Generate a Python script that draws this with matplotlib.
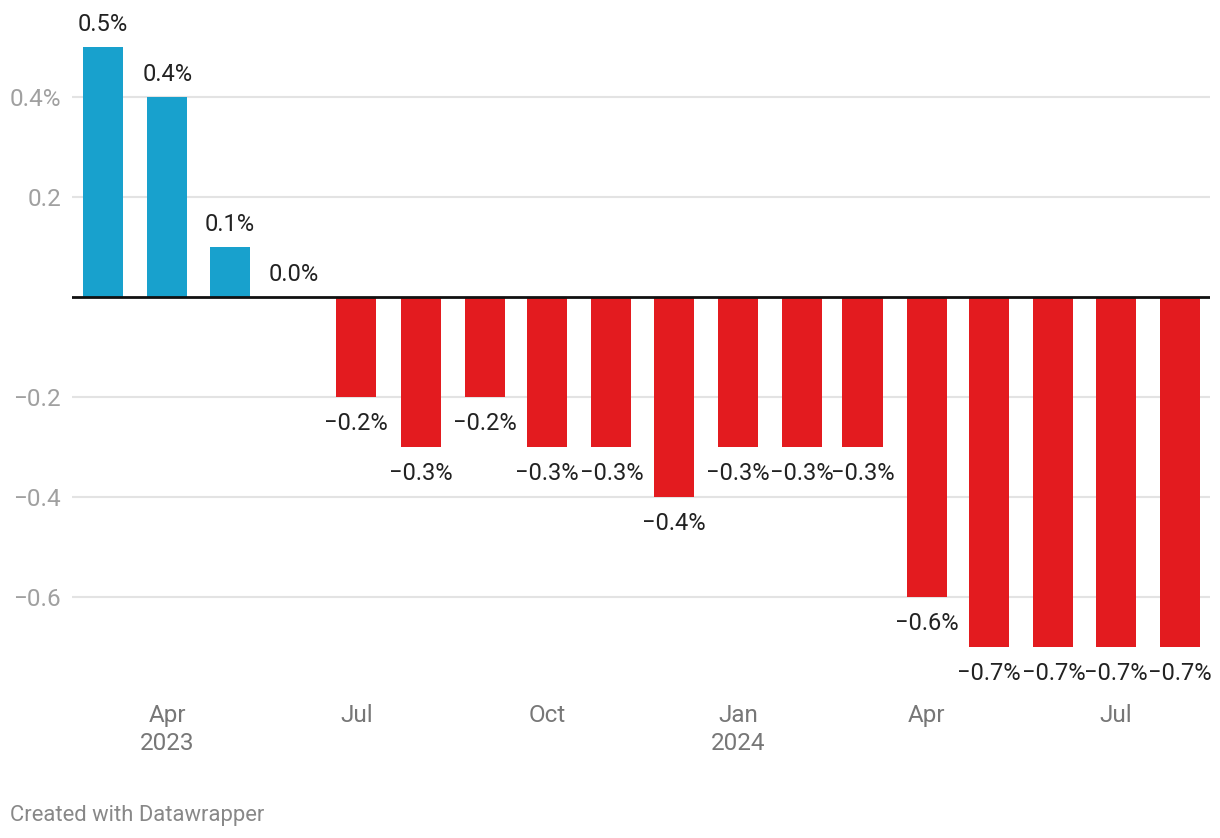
import matplotlib
matplotlib.use("Agg")
import matplotlib.pyplot as plt
import matplotlib.dates as mdates
import pandas as pd
import numpy as np

plt.rcParams['font.family'] = ['Roboto', 'DejaVu Sans']

# monthly change, Mar 2023 - Aug 2024
months = pd.date_range("2023-03-01", "2024-08-01", freq="MS")
values = [0.5, 0.4, 0.1, 0.0, -0.2, -0.3, -0.2, -0.3, -0.3, -0.4,
          -0.3, -0.3, -0.3, -0.6, -0.7, -0.7, -0.7, -0.7]

tick_dates = pd.to_datetime(["2023-04-01", "2023-07-01", "2023-10-01",
                             "2024-01-01", "2024-04-01", "2024-07-01"])
tick_labels = ["Apr\n2023", "Jul", "Oct", "Jan\n2024", "Apr", "Jul"]
yticks = [-0.6, -0.4, -0.2, 0.2, 0.4]
ytick_labels = ["\u22120.6", "\u22120.4", "\u22120.2", "0.2", "0.4%"]

BLUE = "#18a1cd"
RED = "#e31b1f"

fig = plt.figure(figsize=(12.2, 8.38), dpi=100)
ax = fig.add_axes([72 / 1220, 1 - 647 / 838, (1210 - 72) / 1220, 600 / 838])

x = mdates.date2num(months)
colors = [BLUE if v >= 0 else RED for v in values]
ax.bar(x, values, width=19.3, color=colors, zorder=3)

for xi, v in zip(x, values):
    lab = ("%.1f%%" % v).replace("-", "\u2212")
    off = 16 if v >= 0 else -19
    ax.annotate(lab, (xi, v), xytext=(0, off), textcoords="offset points",
                ha="center", va="center", fontsize=17, color="#222222", zorder=4)

ax.set_xlim(x[0] - 15, x[-1] + 14.5)
ax.set_ylim(-0.7, 0.5)

ax.set_yticks(yticks)
ax.set_yticklabels(ytick_labels)
ax.tick_params(axis="y", length=0, pad=8, labelsize=17.5, labelcolor="#a0a0a0")
for yv in yticks:
    ax.axhline(yv, color="#e3e3e3", lw=1.5, zorder=1)
ax.axhline(0, color="#111111", lw=2, zorder=5)

ax.set_xticks(mdates.date2num(tick_dates))
ax.set_xticklabels(tick_labels, linespacing=1.3)
ax.tick_params(axis="x", length=0, pad=41, labelsize=17.5, labelcolor="#777777")

for s in ax.spines.values():
    s.set_visible(False)

fig.text(10 / 1220, 1 - 815 / 838, "Created with Datawrapper", fontsize=15.8,
         color="#888888", ha="left", va="center")

fig.savefig("out.png", dpi=100)
